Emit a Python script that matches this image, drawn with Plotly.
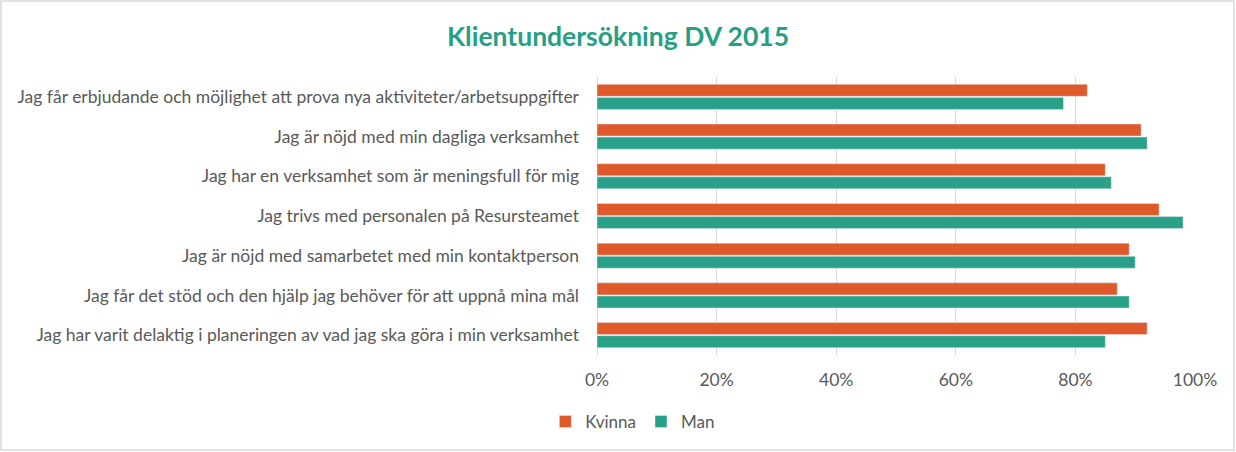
import plotly.graph_objects as go

categories = [
    "Jag får erbjudande och möjlighet att prova nya aktiviteter/arbetsuppgifter",
    "Jag är nöjd med min dagliga verksamhet",
    "Jag har en verksamhet som är meningsfull för mig",
    "Jag trivs med personalen på Resursteamet",
    "Jag är nöjd med samarbetet med min kontaktperson",
    "Jag får det stöd och den hjälp jag behöver för att uppnå mina mål",
    "Jag har varit delaktig i planeringen av vad jag ska göra i min verksamhet",
]
kvinna = [0.82, 0.91, 0.85, 0.94, 0.89, 0.87, 0.92]
man = [0.78, 0.92, 0.86, 0.98, 0.90, 0.89, 0.85]
x_ticks = [0, 0.2, 0.4, 0.6, 0.8, 1.0]
x_labels = ["0%", "20%", "40%", "60%", "80%", "100%"]

ORANGE = "#E0592A"
TEAL = "#29A188"
TEXT = "#595959"
FONT = "Lato"
FS = 17.5

W, H = 1236, 452
ML, MR, MT, MB = 597, 41, 77, 97

fig = go.Figure()
fig.add_trace(go.Bar(y=categories, x=kvinna, name="Kvinna", orientation="h",
                     marker=dict(color=ORANGE), hoverinfo="x+y"))
fig.add_trace(go.Bar(y=categories, x=man, name="Man", orientation="h",
                     marker=dict(color=TEAL), hoverinfo="x+y"))

pw = W - ML - MR
ph = H - MT - MB
fig.add_shape(type="rect", xref="paper", yref="paper",
              x0=(-ML + 1) / pw, x1=(pw + MR - 2) / pw,
              y0=(-MB + 2) / ph, y1=(ph + MT - 1) / ph,
              line=dict(color="#D9D9D9", width=1.5), fillcolor="rgba(0,0,0,0)",
              layer="below")

fig.update_layout(
    width=W, height=H,
    margin=dict(l=ML, r=MR, t=MT, b=MB),
    paper_bgcolor="white", plot_bgcolor="white",
    barmode="group", bargap=0.34, bargroupgap=0.08,
    title=dict(text="<b>Klientundersökning DV 2015</b>", x=0.5, xref="container",
               xanchor="center", y=1 - 37 / H, yref="container", yanchor="middle",
               font=dict(family=FONT, size=26.5, color="#26A085")),
    font=dict(family=FONT, size=FS, color=TEXT),
    legend=dict(orientation="h", x=0.512, xanchor="center", xref="container",
                y=1 - 422 / H, yref="container", yanchor="middle",
                font=dict(family=FONT, size=17, color=TEXT),
                traceorder="normal", itemwidth=30),
    xaxis=dict(range=[0, 1.0], tickvals=x_ticks, ticktext=x_labels,
               showgrid=True, gridcolor="#D9D9D9", gridwidth=1,
               zeroline=True, zerolinecolor="#D9D9D9", zerolinewidth=1,
               showline=False, ticks="", ticklabelstandoff=12,
               tickfont=dict(family=FONT, size=FS, color=TEXT), fixedrange=True),
    yaxis=dict(autorange="reversed", showgrid=False, showline=False, ticks="",
               ticklabelstandoff=17,
               tickfont=dict(family=FONT, size=FS, color=TEXT), fixedrange=True),
    showlegend=True,
)

fig.write_html("out.html", config={"displayModeBar": False},
               post_script="document.body.style.margin='0';")
